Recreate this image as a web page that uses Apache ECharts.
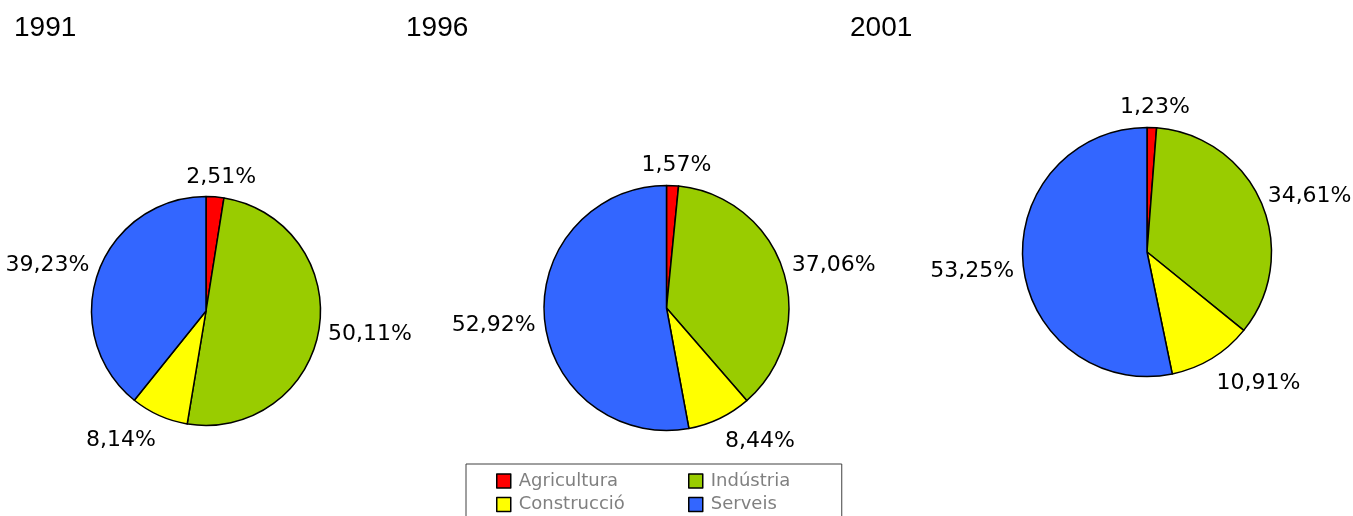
<!DOCTYPE html>
<html>
<head>
<meta charset="utf-8">
<script src="https://cdn.jsdelivr.net/npm/echarts@6/dist/echarts.min.js"></script>
<style>
html,body{margin:0;padding:0;background:#fff;}
#chart{width:1353px;height:516px;}
</style>
</head>
<body>
<div id="chart"></div>
<script>
// ---- data ----
const categories = ['Agricultura', 'Indústria', 'Construcció', 'Serveis'];
const years = ['1991', '1996', '2001'];
const values1991 = [2.51, 50.11, 8.14, 39.23];
const values1996 = [1.57, 37.06, 8.44, 52.92];
const values2001 = [1.23, 34.61, 10.91, 53.25];
const legendCol1 = ['Agricultura', 'Construcció'];
const legendCol2 = ['Indústria', 'Serveis'];

// ---- style ----
const colors = ['#FF0000', '#99CC00', '#FFFF00', '#3366FF'];
const pieGeom = [
  { center: [206, 311], radius: 114.5, titleLeft: 14 },
  { center: [666.5, 308], radius: 122.5, titleLeft: 406 },
  { center: [1147, 252], radius: 124.5, titleLeft: 850 }
];
// small manual label shifts (style), per series, per category index
const labelShift = [
  [[0, 0], [0, 0], [-6, 6], [0, 3]],
  [[0, 0], [0, 4], [6, 4], [0, 3]],
  [[0, 0], [-2, 6], [0, 6], [0, 3]]
];
const allValues = [values1991, values1996, values2001];

const chart = echarts.init(document.getElementById('chart'), null, { renderer: 'canvas' });

function fmt(v) { return v.toFixed(2).replace('.', ',') + '%'; }
function clamp(v) { return Math.max(-1, Math.min(1, v)); }

function makeLabelLayout(si) {
  const vals = allValues[si];
  const total = vals.reduce(function (a, b) { return a + b; }, 0);
  return function (p) {
    const w = p.labelRect.width, h = p.labelRect.height;
    let cum = 0;
    for (let k = 0; k < p.dataIndex; k++) cum += vals[k];
    const theta = 2 * Math.PI * (cum + vals[p.dataIndex] / 2) / total;
    const nx = Math.sin(theta), ny = -Math.cos(theta);
    const r = pieGeom[si].radius, c = pieGeom[si].center;
    const g = 9;
    const px = c[0] + nx * (r + g), py = c[1] + ny * (r + g);
    const sh = labelShift[si][p.dataIndex] || [0, 0];
    return {
      x: px + clamp(2 * nx) * w / 2 + sh[0],
      y: py + clamp(2 * ny) * h / 2 + sh[1],
      align: 'center',
      verticalAlign: 'middle'
    };
  };
}

const series = allValues.map(function (vals, si) {
  return {
    type: 'pie',
    name: years[si],
    center: pieGeom[si].center,
    radius: pieGeom[si].radius,
    startAngle: 90,
    clockwise: true,
    avoidLabelOverlap: false,
    animation: false,
    silent: true,
    itemStyle: { borderColor: '#000', borderWidth: 1.5 },
    label: {
      show: true,
      position: 'outside',
      color: '#000',
      fontFamily: 'DejaVu Sans',
      fontSize: 22,
      formatter: function (p) { return fmt(p.value); }
    },
    labelLine: { show: false },
    labelLayout: makeLabelLayout(si),
    emphasis: { disabled: true },
    data: categories.map(function (c, i) {
      return { name: c, value: vals[i], itemStyle: { color: colors[i] } };
    })
  };
});

const titles = years.map(function (y, i) {
  return {
    text: y,
    left: pieGeom[i].titleLeft,
    top: 14,
    padding: 0,
    textStyle: { fontFamily: 'Liberation Sans', fontSize: 28, fontWeight: 'normal', color: '#000' }
  };
});

const legendText = { fontFamily: 'DejaVu Sans', fontSize: 18, color: '#808080', width: 120, lineHeight: 20, padding: [0, 0, 0, 3] };

const option = {
  backgroundColor: '#fff',
  animation: false,
  title: titles,
  legend: [
    {
      orient: 'vertical',
      left: 466, top: 464,
      width: 375, height: 80,
      padding: [7, 203, 20, 30],
      borderColor: '#404040', borderWidth: 1,
      itemWidth: 14, itemHeight: 14, itemGap: 3.5,
      icon: 'rect',
      itemStyle: { borderColor: '#000', borderWidth: 1.5 },
      textStyle: legendText,
      selectedMode: false,
      data: legendCol1
    },
    {
      orient: 'vertical',
      left: 688, top: 464,
      height: 80,
      padding: [7, 0, 0, 0],
      itemWidth: 14, itemHeight: 14, itemGap: 3.5,
      icon: 'rect',
      itemStyle: { borderColor: '#000', borderWidth: 1.5 },
      textStyle: legendText,
      selectedMode: false,
      data: legendCol2
    }
  ],
  series: series
};
chart.setOption(option);
</script>
</body>
</html>
